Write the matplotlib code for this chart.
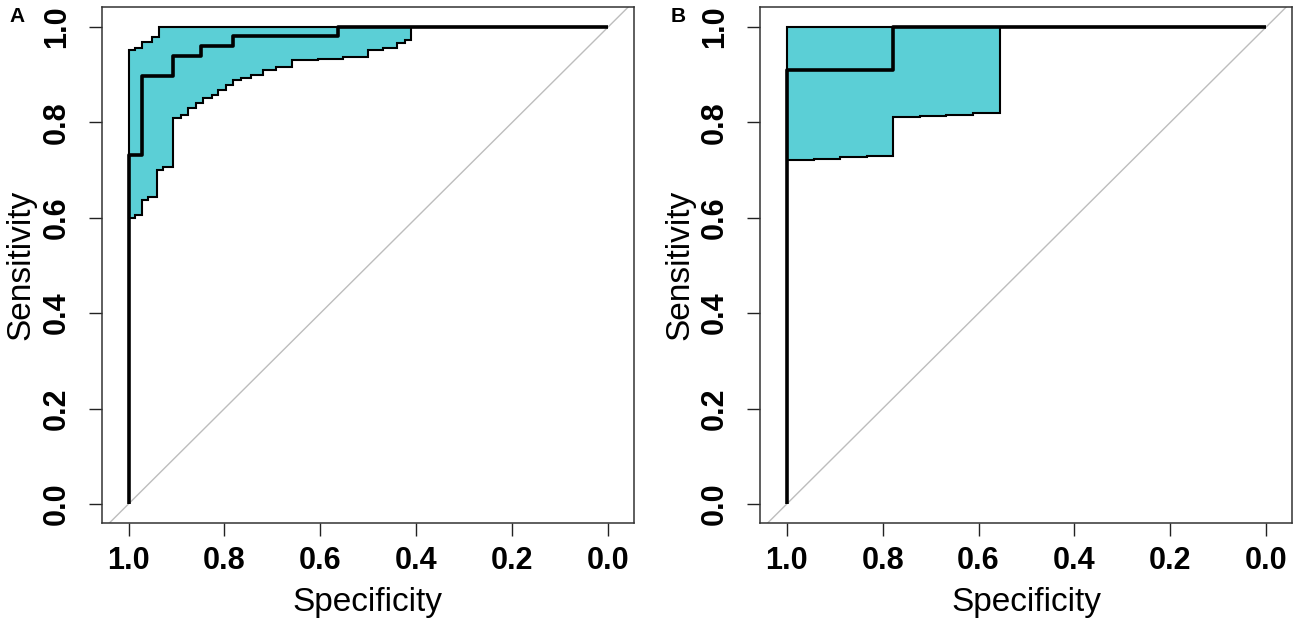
import numpy as np
import matplotlib
matplotlib.use("Agg")
import matplotlib.pyplot as plt

plt.rcParams["font.family"] = ["Liberation Sans", "DejaVu Sans"]

# Panel A: ROC curve and its confidence band (specificity, sensitivity breakpoints)
a_roc_spec = [1.0, 1.0, 0.971, 0.9075, 0.848, 0.782, 0.564, 0.0]
a_roc_sens = [0.0, 0.732, 0.897, 0.939, 0.961, 0.982, 1.0, 1.0]

a_up_spec = [1.0, 0.987, 0.971, 0.952, 0.937, 0.0]
a_up_sens = [0.952, 0.957, 0.969, 0.980, 1.0, 1.0]

a_lo_spec = [1.0, 0.987, 0.971, 0.96, 0.941, 0.928, 0.9075, 0.89, 0.876, 0.859,
             0.845, 0.827, 0.814, 0.796, 0.782, 0.765, 0.744, 0.72, 0.692, 0.66,
             0.605, 0.553, 0.5, 0.469, 0.441, 0.424, 0.41, 0.0]
a_lo_sens = [0.599, 0.606, 0.637, 0.644, 0.700, 0.707, 0.809, 0.816, 0.830, 0.840,
             0.851, 0.857, 0.869, 0.878, 0.889, 0.894, 0.899, 0.910, 0.917, 0.931,
             0.934, 0.938, 0.952, 0.955, 0.966, 0.973, 1.0, 1.0]

# Panel B
b_roc_spec = [1.0, 1.0, 0.778, 0.0]
b_roc_sens = [0.0, 0.909, 1.0, 1.0]

b_up_spec = [1.0, 0.0]
b_up_sens = [1.0, 1.0]

b_lo_spec = [1.0, 0.944, 0.889, 0.833, 0.778, 0.722, 0.667, 0.611, 0.556, 0.0]
b_lo_sens = [0.721, 0.723, 0.727, 0.730, 0.812, 0.814, 0.816, 0.819, 1.0, 1.0]

ticks = [1.0, 0.8, 0.6, 0.4, 0.2, 0.0]
tick_labels = ["1.0", "0.8", "0.6", "0.4", "0.2", "0.0"]

FILL = "#5bcfd6"


def stairs(xs, ys):
    # turn breakpoints into step vertices (value held until next x)
    vx, vy = [], []
    for i in range(len(xs)):
        if i > 0:
            vx.append(xs[i])
            vy.append(ys[i - 1])
        vx.append(xs[i])
        vy.append(ys[i])
    return np.array(vx), np.array(vy)


def draw_panel(ax, roc, up, lo):
    ax.set_xlim(1.056, -0.054)
    ax.set_ylim(-0.04, 1.042)

    # chance line
    ax.plot([1.1, -0.1], [-0.1, 1.1], color="#bdbdbd", lw=1, zorder=1)

    ux, uy = stairs(*up)
    lx, ly = stairs(*lo)
    px = np.concatenate([ux, lx[::-1]])
    py = np.concatenate([uy, ly[::-1]])
    ax.fill(px, py, facecolor=FILL, edgecolor="black", lw=1.5, zorder=2)

    rx, ry = stairs(*roc)
    ax.plot(rx, ry, color="black", lw=2.6, zorder=3, solid_capstyle="butt")

    ax.set_xticks(ticks)
    ax.set_xticklabels(tick_labels, fontsize=22, fontweight="bold")
    ax.set_yticks(ticks)
    ax.set_yticklabels(tick_labels, fontsize=22, fontweight="bold",
                       rotation=90, va="center")
    ax.tick_params(axis="both", direction="out", length=9.5, width=1,
                   color="#222222")
    ax.tick_params(axis="x", pad=7)
    ax.tick_params(axis="y", pad=12)
    for s in ax.spines.values():
        s.set_linewidth(1.1)
        s.set_color("#333333")

    ax.set_xlabel("Specificity", fontsize=24)
    ax.set_ylabel("Sensitivity", fontsize=24)
    ax.xaxis.set_label_coords(0.5, -0.124)
    ax.yaxis.set_label_coords(-0.122, 0.5)


fig = plt.figure(figsize=(13, 6.25), dpi=100)
W, H = 1300.0, 625.0
ax_a = fig.add_axes([101.7 / W, 1 - 523 / H, (634 - 101.7) / W, (523 - 7) / H])
ax_b = fig.add_axes([760 / W, 1 - 523 / H, (1292 - 760) / W, (523 - 7) / H])

draw_panel(ax_a, (a_roc_spec, a_roc_sens), (a_up_spec, a_up_sens),
           (a_lo_spec, a_lo_sens))
draw_panel(ax_b, (b_roc_spec, b_roc_sens), (b_up_spec, b_up_sens),
           (b_lo_spec, b_lo_sens))

fig.text(17 / W, 1 - 17 / H, "A", fontsize=15, fontweight="bold",
         ha="center", va="center")
fig.text(678 / W, 1 - 17 / H, "B", fontsize=15, fontweight="bold",
         ha="center", va="center")

fig.savefig("out.png", dpi=100)
